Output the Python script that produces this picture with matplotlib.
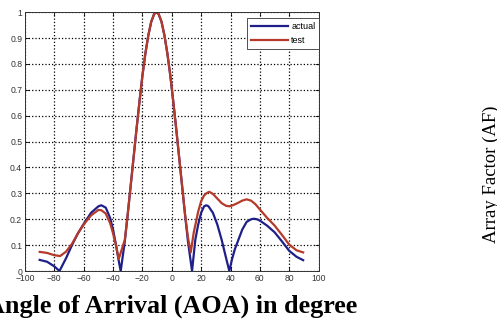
import numpy as np
from matplotlib import pyplot as plt

# angle in degree / array factor
actual_x = [-90, -85, -80, -76.5, -72, -68, -64, -60, -55, -50, -48, -45, -42, -40, -38, -36, -34.8,
            -32, -30, -28, -26, -24, -22, -20, -18, -16, -14, -12, -10.5, -9, -7, -5, -3, -1,
            1, 3, 5, 7, 9, 11, 13.8,
            16, 18, 20, 22, 23.5, 25, 28, 31, 34, 37, 39.2,
            41, 43, 45, 48, 51, 54, 56, 58, 60, 65, 70, 75, 80, 85, 89.5]
actual_y = [0.043, 0.036, 0.018, 0.0, 0.05, 0.1, 0.145, 0.182, 0.225, 0.25, 0.254, 0.245, 0.205, 0.16, 0.1, 0.035, 0.0,
            0.115, 0.22, 0.33, 0.44, 0.55, 0.655, 0.755, 0.84, 0.91, 0.963, 0.993, 1.0, 0.993, 0.963, 0.91, 0.84, 0.755,
            0.655, 0.55, 0.44, 0.33, 0.22, 0.115, 0.0,
            0.12, 0.18, 0.225, 0.25, 0.254, 0.25, 0.225, 0.18, 0.12, 0.05, 0.0,
            0.045, 0.085, 0.115, 0.16, 0.19, 0.2, 0.202, 0.2, 0.195, 0.175, 0.15, 0.115, 0.078, 0.055, 0.042]

test_x = [-90, -85, -80, -76, -72, -68, -64, -60, -55, -50, -48, -45, -42, -40, -38, -36.2,
          -34, -32, -30, -28, -26, -24, -22, -20, -18, -16, -14, -12, -10.5, -9, -7, -5, -3, -1,
          1, 3, 5, 7, 9, 11, 12.9,
          15, 18, 20, 22, 24, 25.6, 28, 31, 34, 37, 39.2,
          42, 45, 48, 51, 54, 57, 60, 65, 70, 75, 80, 85, 89.5]
test_y = [0.074, 0.07, 0.061, 0.058, 0.075, 0.105, 0.145, 0.18, 0.215, 0.236, 0.235, 0.222, 0.185, 0.145, 0.1, 0.046,
          0.085, 0.12, 0.22, 0.33, 0.44, 0.55, 0.655, 0.755, 0.84, 0.91, 0.963, 0.993, 1.0, 0.993, 0.963, 0.91, 0.84, 0.755,
          0.655, 0.55, 0.44, 0.33, 0.22, 0.13, 0.072,
          0.15, 0.23, 0.27, 0.292, 0.302, 0.306, 0.298, 0.28, 0.262, 0.252, 0.25,
          0.255, 0.263, 0.272, 0.277, 0.272, 0.258, 0.238, 0.205, 0.176, 0.14, 0.102, 0.08, 0.072]

x_ticks = [-100, -80, -60, -40, -20, 0, 20, 40, 60, 80, 100]
y_ticks = [0, 0.1, 0.2, 0.3, 0.4, 0.5, 0.6, 0.7, 0.8, 0.9, 1]
y_tick_labels = ['0', '0.1', '0.2', '0.3', '0.4', '0.5', '0.6', '0.7', '0.8', '0.9', '1']

fig = plt.figure(figsize=(4.97, 3.20), dpi=100)
ax = fig.add_axes([0.0503, 0.153, 0.5907, 0.809])

ax.plot(actual_x, actual_y, color='#1f1f8a', lw=1.6, label='actual')
ax.plot(test_x, test_y, color='#b53a2a', lw=1.6, label='test')

ax.set_xlim(-100, 100)
ax.set_ylim(0, 1)
ax.set_xticks(x_ticks)
ax.set_yticks(y_ticks)
ax.set_yticklabels(y_tick_labels)
ax.tick_params(direction='in', labelsize=6.2, length=3, width=0.6, pad=2,
               top=True, right=True, labelcolor='#333333')
for lab in ax.get_xticklabels() + ax.get_yticklabels():
    lab.set_family('Liberation Sans')
ax.grid(True, linestyle=':', color='black', lw=0.9)
for s in ax.spines.values():
    s.set_linewidth(0.7)
    s.set_color('#333333')

leg = ax.legend(loc='upper right', bbox_to_anchor=(1.012, 0.988),
                prop={'family': 'Liberation Sans', 'size': 6.5},
                fancybox=False, edgecolor='#333333', framealpha=1,
                handlelength=4.0, handletextpad=0.4, borderpad=0.45,
                labelspacing=0.55, borderaxespad=0.3)
leg.get_frame().set_linewidth(0.6)

# labels are cut by the picture edges, as in the source image
fig.text(357 / 497, 1 - 313 / 320, 'Angle of Arrival (AOA) in degree',
         family='Liberation Serif', fontweight='bold', fontsize=18.8,
         ha='right', va='baseline')
fig.text(483 / 497, 1 - 243 / 320, 'Array Factor (AF)',
         family='Liberation Serif', fontsize=13.5, rotation=90,
         ha='left', va='bottom')

fig.savefig('out.png', dpi=100)
